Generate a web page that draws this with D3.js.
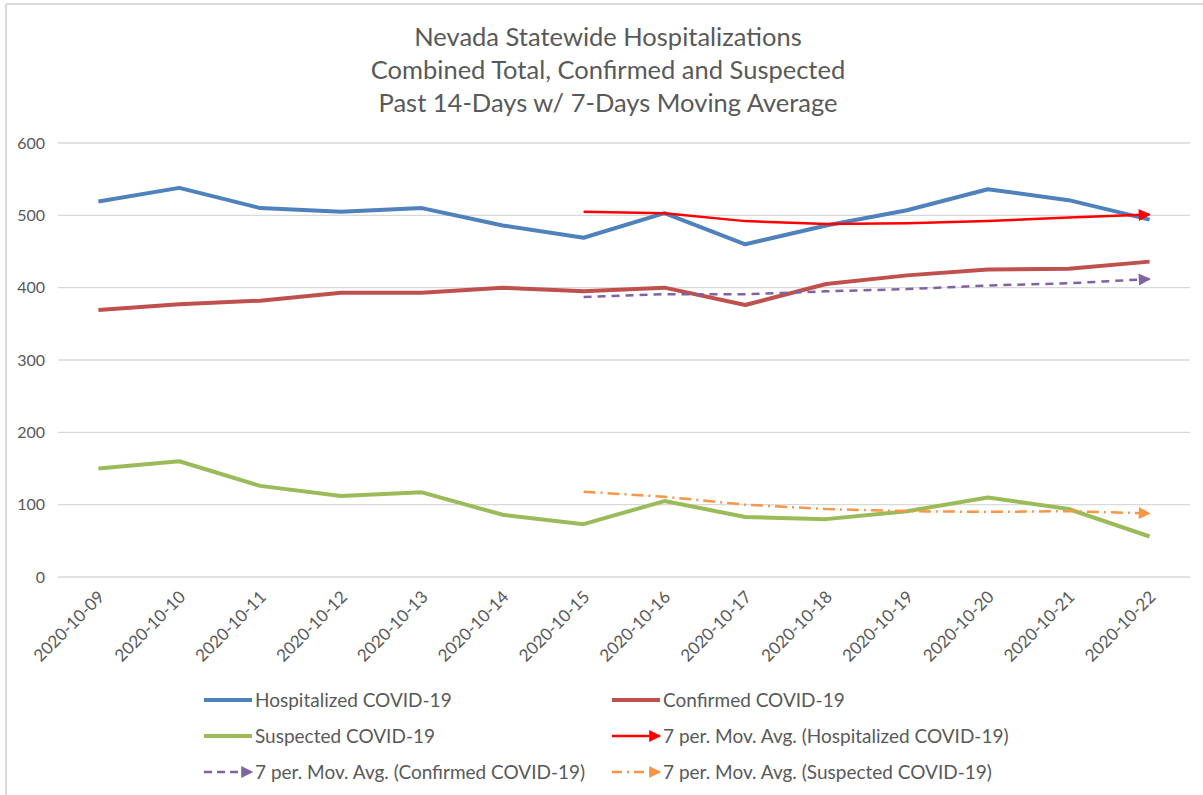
<!DOCTYPE html>
<html>
<head>
<meta charset="utf-8">
<script src="https://d3js.org/d3.v7.min.js"></script>
<style>
  html, body { margin: 0; padding: 0; background: #fff; }
  svg text { font-family: Lato, "Open Sans", sans-serif; fill: #595959; }
</style>
</head>
<body>
<div id="chart"></div>
<script>
// values
const dates = ['2020-10-09', '2020-10-10', '2020-10-11', '2020-10-12', '2020-10-13', '2020-10-14', '2020-10-15',
  '2020-10-16', '2020-10-17', '2020-10-18', '2020-10-19', '2020-10-20', '2020-10-21', '2020-10-22'];
const hospitalized = [519, 538, 510, 505, 510, 486, 469, 503, 460, 486, 507, 536, 521, 494];
const confirmed = [369, 377, 382, 393, 393, 400, 395, 400, 376, 405, 417, 425, 426, 436];
const suspected = [150, 160, 126, 112, 117, 86, 73, 105, 83, 80, 91, 110, 94, 56];
// moving averages start at the 7th day
const maHospitalized = [null, null, null, null, null, null, 505, 503, 492, 488, 489, 492, 497, 501];
const maConfirmed = [null, null, null, null, null, null, 387, 391, 391, 395, 398, 403, 406, 412];
const maSuspected = [null, null, null, null, null, null, 118, 111, 100, 94, 91, 90, 91, 88];
const yTicks = [0, 100, 200, 300, 400, 500, 600];
const titleLines = ['Nevada Statewide Hospitalizations', 'Combined Total, Confirmed and Suspected', 'Past 14-Days w/ 7-Days Moving Average'];

const width = 1203, height = 795;
const svg = d3.select('#chart').append('svg')
  .attr('width', width)
  .attr('height', height);

// arrow heads for the trend lines, tip sits on the last point
const defs = svg.append('defs');
function arrow(id, color) {
  defs.append('marker')
    .attr('id', id)
    .attr('viewBox', '0 0 10 10')
    .attr('refX', 9).attr('refY', 5)
    .attr('markerWidth', 13).attr('markerHeight', 12)
    .attr('markerUnits', 'userSpaceOnUse')
    .attr('orient', 'auto')
    .append('path')
    .attr('d', 'M0,0 L10,5 L0,10 Z')
    .attr('fill', color);
}
arrow('arr-red', '#ff0000');
arrow('arr-purple', '#8064a2');
arrow('arr-orange', '#f79646');

// chart frame (top and left edge only show in the picture)
svg.append('line').attr('x1', 6).attr('x2', width).attr('y1', 4).attr('y2', 4)
  .attr('stroke', '#d9d9d9').attr('stroke-width', 2);
svg.append('line').attr('x1', 6).attr('x2', 6).attr('y1', 4).attr('y2', height)
  .attr('stroke', '#d9d9d9').attr('stroke-width', 2);

// title
svg.append('g').selectAll('text')
  .data(titleLines)
  .enter()
  .append('text')
  .attr('x', 608)
  .attr('y', (d, i) => 46 + i * 33)
  .attr('text-anchor', 'middle')
  .attr('font-size', 25.5)
  .text(d => d);

const x = d3.scaleBand().domain(dates).range([58, 1190]);
const y = d3.scaleLinear().domain([0, 600]).range([577, 143]);
const cx = d => x(d) + x.bandwidth() / 2;

// gridlines
svg.append('g').selectAll('line')
  .data(yTicks)
  .enter()
  .append('line')
  .attr('x1', 58).attr('x2', 1190)
  .attr('y1', d => y(d)).attr('y2', d => y(d))
  .attr('stroke', '#d9d9d9').attr('stroke-width', 1.3);

// y labels
const yAxis = svg.append('g')
  .attr('transform', 'translate(58,0)')
  .call(d3.axisLeft(y).tickValues(yTicks).tickSize(0).tickPadding(13));
yAxis.select('.domain').remove();
yAxis.selectAll('text').attr('font-size', 16).attr('font-family', 'Lato').attr('fill', '#595959');

// x labels, rotated
const xAxis = svg.append('g')
  .attr('transform', 'translate(0,577)')
  .call(d3.axisBottom(x).tickSize(0));
xAxis.select('.domain').remove();
xAxis.selectAll('text')
  .attr('font-size', 17)
  .attr('font-family', 'Lato')
  .attr('fill', '#595959')
  .attr('text-anchor', 'end')
  .attr('dy', null)
  .attr('transform', 'translate(5,19) rotate(-45)');

const line = d3.line()
  .defined(d => d.v != null)
  .x(d => cx(d.date))
  .y(d => y(d.v));

const series = [
  { values: hospitalized, color: '#4f81bd', w: 4 },
  { values: confirmed, color: '#c0504d', w: 4 },
  { values: suspected, color: '#9bbb59', w: 4 },
  { values: maHospitalized, color: '#ff0000', w: 2.5, marker: 'arr-red' },
  { values: maConfirmed, color: '#8064a2', w: 2.5, dash: '8,6', marker: 'arr-purple' },
  { values: maSuspected, color: '#f79646', w: 2.5, dash: '12,5,2,5', marker: 'arr-orange' }
];

svg.append('g').selectAll('path')
  .data(series)
  .enter()
  .append('path')
  .attr('d', s => line(s.values.map((v, i) => ({ date: dates[i], v: v })).filter(d => d.v != null)))
  .attr('fill', 'none')
  .attr('stroke', s => s.color)
  .attr('stroke-width', s => s.w)
  .attr('stroke-linejoin', 'round')
  .attr('stroke-dasharray', s => s.dash || null)
  .attr('marker-end', s => s.marker ? `url(#${s.marker})` : null);

// legend
const legendItems = [
  { label: 'Hospitalized COVID-19', s: series[0] },
  { label: 'Confirmed COVID-19', s: series[1] },
  { label: 'Suspected COVID-19', s: series[2] },
  { label: '7 per. Mov. Avg. (Hospitalized COVID-19)', s: series[3] },
  { label: '7 per. Mov. Avg. (Confirmed COVID-19)', s: series[4] },
  { label: '7 per. Mov. Avg. (Suspected COVID-19)', s: series[5] }
];
const legend = svg.append('g').selectAll('g')
  .data(legendItems)
  .enter()
  .append('g')
  .attr('transform', (d, i) => `translate(${i % 2 ? 612 : 204},${700 + Math.floor(i / 2) * 36})`);

legend.append('line')
  .attr('x1', 0)
  .attr('x2', 48)
  .attr('y1', 0).attr('y2', 0)
  .attr('stroke', d => d.s.color)
  .attr('stroke-width', d => d.s.w)
  .attr('stroke-dasharray', d => d.s.dash ? (d.s.dash === '8,6' ? '8,5' : '10,5,2,5') : null)
  .attr('marker-end', d => d.s.marker ? `url(#${d.s.marker})` : null);

legend.append('text')
  .attr('x', 51)
  .attr('y', 6.5)
  .attr('font-size', 19)
  .text(d => d.label);
</script>
</body>
</html>
